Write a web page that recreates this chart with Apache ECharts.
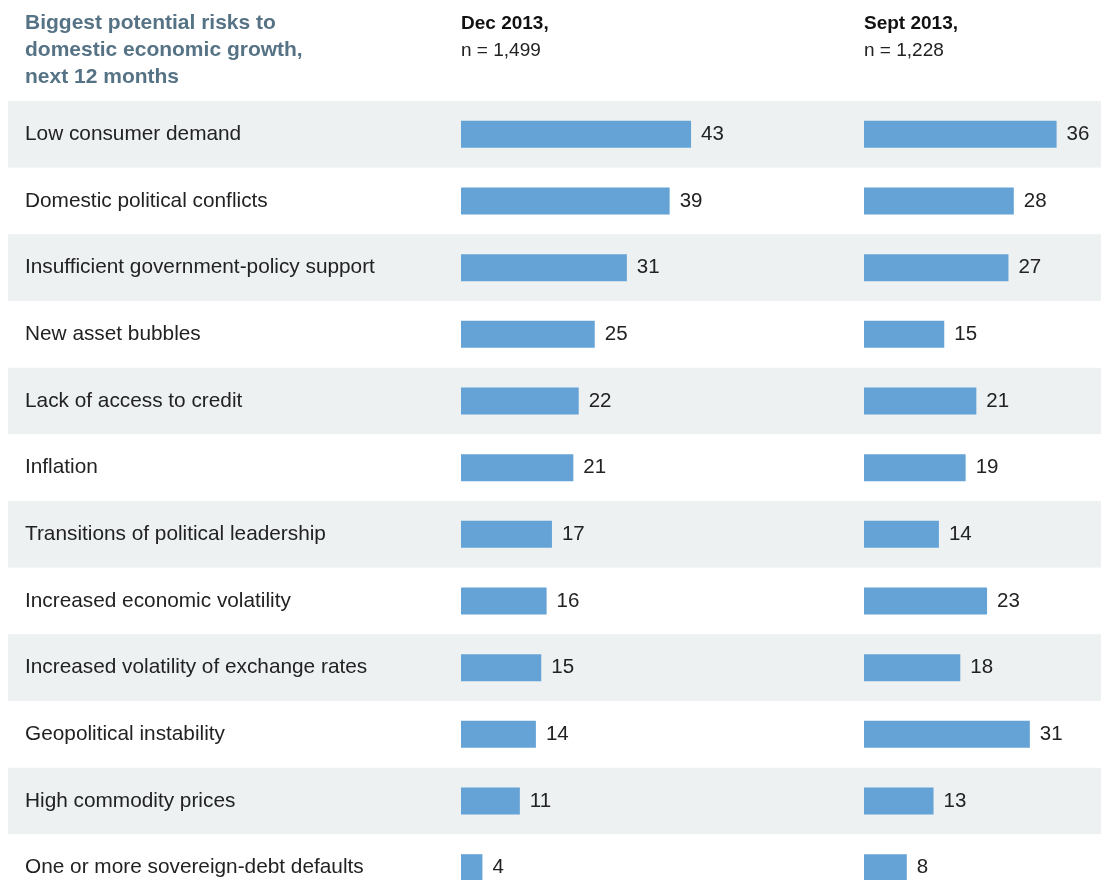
<!DOCTYPE html>
<html>
<head>
<meta charset="utf-8">
<script src="https://cdn.jsdelivr.net/npm/echarts@6/dist/echarts.min.js"></script>
<style>html,body{margin:0;padding:0;background:#fff;overflow:hidden}#c{width:1101px;height:901px}</style>
</head>
<body>
<div id="c"></div>
<script>
const categories = [
  "Low consumer demand",
  "Domestic political conflicts",
  "Insufficient government-policy support",
  "New asset bubbles",
  "Lack of access to credit",
  "Inflation",
  "Transitions of political leadership",
  "Increased economic volatility",
  "Increased volatility of exchange rates",
  "Geopolitical instability",
  "High commodity prices",
  "One or more sovereign-debt defaults"
];
const dec2013 = [43, 39, 31, 25, 22, 21, 17, 16, 15, 14, 11, 4];
const sept2013 = [36, 28, 27, 15, 21, 19, 14, 23, 18, 31, 13, 8];
const chartTitle = "Biggest potential risks to\ndomestic economic growth,\nnext 12 months";
const decHeader = "Dec 2013,";
const decSub = "n = 1,499";
const septHeader = "Sept 2013,";
const septSub = "n = 1,228";

const FONT = "Liberation Sans";
const BAR = "#65a3d6";
const rowTop = 101, rowsH = 800;

const chart = echarts.init(document.getElementById('c'), null, {renderer: 'canvas'});
const hiddenCat = (gi) => ({
  type: 'category', gridIndex: gi, data: categories, inverse: true,
  axisLine: {show: false}, axisTick: {show: false}, axisLabel: {show: false}, splitLine: {show: false}
});
const hiddenVal = (gi, max) => ({
  type: 'value', gridIndex: gi, min: 0, max: max,
  axisLine: {show: false}, axisTick: {show: false}, axisLabel: {show: false}, splitLine: {show: false}
});
const barSeries = (gi, data) => ({
  type: 'bar', xAxisIndex: gi, yAxisIndex: gi, data: data, barWidth: 27,
  itemStyle: {color: BAR}, silent: true,
  label: {show: true, position: 'right', distance: 10, padding: [2, 0, 0, 0],
          fontFamily: FONT, fontSize: 20.5, color: '#222'}
});
chart.setOption({
  animation: false,
  textStyle: {fontFamily: FONT},
  title: [
    {text: chartTitle, left: 25, top: 10, padding: 0,
     textStyle: {fontFamily: FONT, fontSize: 21, fontWeight: 'bold', color: '#567385', lineHeight: 27}},
    {text: decHeader, subtext: decSub, left: 461, top: 10, padding: 0, itemGap: 0,
     textStyle: {fontFamily: FONT, fontSize: 19, fontWeight: 'bold', color: '#111', lineHeight: 27},
     subtextStyle: {fontFamily: FONT, fontSize: 19, color: '#222', lineHeight: 27}},
    {text: septHeader, subtext: septSub, left: 864, top: 10, padding: 0, itemGap: 0,
     textStyle: {fontFamily: FONT, fontSize: 19, fontWeight: 'bold', color: '#111', lineHeight: 27},
     subtextStyle: {fontFamily: FONT, fontSize: 19, color: '#222', lineHeight: 27}}
  ],
  grid: [
    {left: 8, right: 0, top: rowTop, height: rowsH},
    {left: 461, width: 267.5, top: rowTop, height: rowsH},
    {left: 864, width: 214, top: rowTop, height: rowsH}
  ],
  xAxis: [
    {type: 'value', gridIndex: 0, min: 0, max: 1, show: false},
    hiddenVal(1, 50), hiddenVal(2, 40)
  ],
  yAxis: [
    {type: 'category', gridIndex: 0, data: categories, inverse: true,
     axisLine: {show: false}, axisTick: {show: false}, splitLine: {show: false},
     axisLabel: {show: true, inside: true, margin: 17, padding: [4, 0, 0, 0],
                 fontFamily: FONT, fontSize: 20.8, color: '#222'},
     splitArea: {show: true, areaStyle: {color: ['#edf1f2', '#ffffff']}}},
    hiddenCat(1), hiddenCat(2)
  ],
  series: [barSeries(1, dec2013), barSeries(2, sept2013)]
});
</script>
</body>
</html>
